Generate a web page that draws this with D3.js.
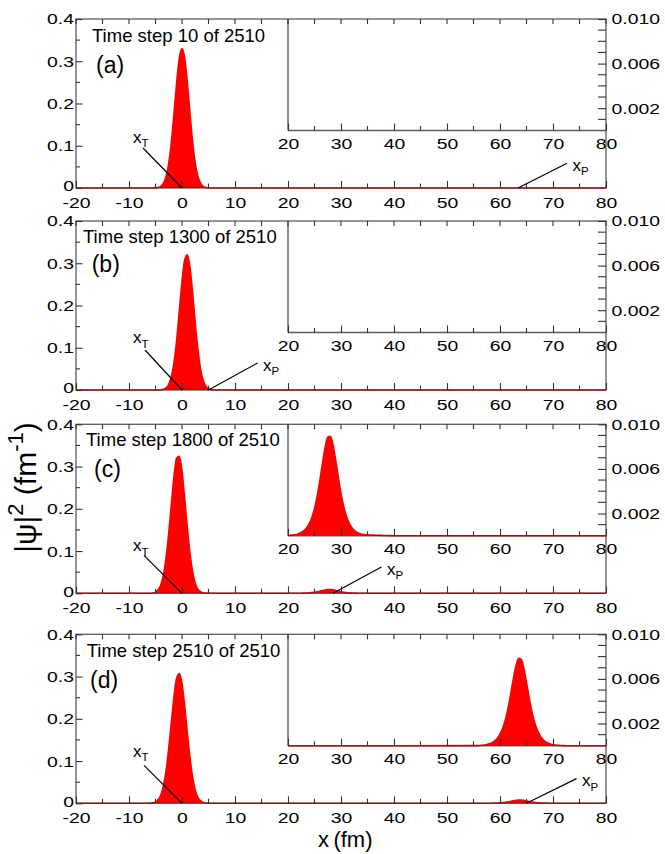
<!DOCTYPE html>
<html>
<head>
<meta charset="utf-8">
<script src="https://cdn.jsdelivr.net/npm/d3@7"></script>
<style>
  html, body { margin: 0; padding: 0; background: #fff; }
  svg { display: block; font-family: "Liberation Sans", Arial, sans-serif; }
</style>
</head>
<body>
<svg id="chart" width="665" height="854"></svg>
<script>
// ---- data ----------------------------------------------------------------
const panelLabels = ["(a)", "(b)", "(c)", "(d)"];
const timeSteps = [10, 1300, 1800, 2510];
const totalSteps = 2510;

const xTickValues = [-20, -10, 0, 10, 20, 30, 40, 50, 60, 70, 80];
const xMinorTicks = [-15, -5, 5, 15, 25, 35, 45, 55, 65, 75];
const yTickValues = [0, 0.1, 0.2, 0.3, 0.4];
const yMinorTicks = [0.05, 0.15, 0.25, 0.35];
const insetXTickValues = [20, 30, 40, 50, 60, 70, 80];
const insetXMinorTicks = [25, 35, 45, 55, 65, 75];
const insetYTickValues = [0.002, 0.006, 0.010];
const insetYMinorTicks = [0.001, 0.003, 0.004, 0.005, 0.007, 0.008, 0.009];

// marker positions for the target (x_T) and projectile (x_P) packets, fm
const targetMarks = [0, 0, 0, 0];
const projectileMarks = [63.4, 5, 28.5, 65];

// packet bound near the origin, |psi|^2 in fm^-1
const nearX = [-20, -10, -8, -7, -6.5, -6, -5.5, -5, -4.5, -4, -3.5, -3, -2.5, -2, -1.5, -1, -0.5,
  0, 0.5, 1, 1.5, 2, 2.5, 3, 3.5, 4, 4.5, 5, 5.5, 6, 6.5, 7, 8, 10];
const nearA = [0, 0, 0, 0, 0, 0.00002, 0.00008, 0.00035, 0.0013, 0.0041, 0.0115, 0.028, 0.059, 0.110, 0.178, 0.251, 0.308,
  0.330, 0.308, 0.251, 0.178, 0.110, 0.059, 0.028, 0.0115, 0.0041, 0.0013, 0.00035, 0.00008, 0.00002, 0, 0, 0, 0];
const nearB = [0, 0, 0, 0, 0, 0, 0, 0.00002, 0.0001, 0.00044, 0.0016, 0.0049, 0.0135, 0.032, 0.066, 0.119, 0.188,
  0.257, 0.307, 0.320, 0.291, 0.230, 0.159, 0.096, 0.050, 0.023, 0.0092, 0.0032, 0.0010, 0.00026, 0.00006, 0.00001, 0, 0];
const nearC = [0, 0, 0, 0.00001, 0.00006, 0.00025, 0.0009, 0.0029, 0.0082, 0.020, 0.044, 0.085, 0.143, 0.212, 0.278, 0.320, 0.324,
  0.289, 0.226, 0.156, 0.095, 0.051, 0.024, 0.0099, 0.0036, 0.0012, 0.0003, 0.00008, 0.00002, 0, 0, 0, 0, 0];
const nearD = [0, 0, 0, 0.00002, 0.00008, 0.0003, 0.0010, 0.0031, 0.0083, 0.0197, 0.042, 0.078, 0.131, 0.193, 0.254, 0.297, 0.307,
  0.283, 0.231, 0.168, 0.108, 0.062, 0.031, 0.014, 0.0057, 0.0020, 0.0006, 0.0002, 0.00004, 0.00001, 0, 0, 0, 0];

// packet travelling outward (only present in the later steps)
const farXC = [20, 20.5, 21, 21.5, 22, 22.5, 23, 23.5, 24, 24.5, 25, 25.5, 26, 26.5, 27, 27.5, 28, 28.5, 29, 29.5,
  30, 30.5, 31, 31.5, 32, 32.5, 33, 33.5, 34, 35, 36, 37, 38, 39, 40, 42, 80];
const farC = [0.00003, 0.00005, 0.00008, 0.00012, 0.00019, 0.00029, 0.00046, 0.00071, 0.00109, 0.00165, 0.00245, 0.00355,
  0.00494, 0.00649, 0.00792, 0.00884, 0.00893, 0.00815, 0.00679, 0.00524, 0.00380, 0.00265, 0.00179, 0.00118, 0.00077,
  0.00050, 0.00032, 0.00020, 0.00013, 0.00008, 0.00006, 0.00005, 0.00003, 0.00002, 0.00001, 0, 0];
const farXD = [20, 40, 55, 55.5, 56, 56.5, 57, 57.5, 58, 58.5, 59, 59.5, 60, 60.5, 61, 61.5, 62, 62.5, 63, 63.5,
  64, 64.5, 65, 65.5, 66, 66.5, 67, 67.5, 68, 68.5, 69, 69.5, 70, 70.5, 71, 71.5, 72, 73, 75, 80];
const farD = [0, 0, 0.000012, 0.000019, 0.00003, 0.000047, 0.000073, 0.000115, 0.00018, 0.00028, 0.00044, 0.00068,
  0.00104, 0.00157, 0.00232, 0.00334, 0.00460, 0.00596, 0.00716, 0.00784, 0.00776, 0.00695, 0.00569, 0.00433,
  0.00311, 0.00215, 0.00145, 0.00095, 0.00062, 0.00040, 0.00026, 0.00016, 0.00010, 0.000067, 0.000043, 0.000027,
  0.000017, 0.00001, 0.000005, 0];

const nearSeries = [nearA, nearB, nearC, nearD];
const farSeriesX = [null, null, farXC, farXD];
const farSeries = [null, null, farC, farD];

// ---- layout --------------------------------------------------------------
const W = 665, H = 854;
const plotLeft = 76, plotRight = 606, panelH = 169, insetH = 111.5;
const panelTop = [19, 221, 424.3, 634.3];
const titlePos = [[92, 23], [83, 22.3], [86, 21.7], [86.7, 22.4]];
const tagPos = [[96, 53.7], [91.7, 50.7], [94, 52.4], [90, 54]];
const xtLabelPos = [[133, 123.7], [133, 122], [133, 127], [133, 122.4]];
const xtLineStart = [[143, 129], [145, 129], [144, 131], [144, 131]];
const xpLineOffset = [[49, -24.7], [49, -27], [48.4, -26.3], [50, -24.7]];

const FRAME = "#333";
const RED = "#ff0000";
const tickFont = 15.5, tickStretch = 1.25;

const svg = d3.select("#chart");
svg.append("rect").attr("width", W).attr("height", H).attr("fill", "#fff");

const x = d3.scaleLinear().domain([-20, 80]).range([plotLeft, plotRight]);

function styleTicks(sel) {
  sel.select(".domain").remove();
  sel.selectAll(".tick line").attr("stroke", FRAME).attr("stroke-width", 1.1);
  sel.selectAll(".tick text")
    .attr("fill", "#000")
    .style("font-size", tickFont + "px")
    .style("font-family", '"Liberation Sans", Arial, sans-serif')
    .attr("transform", `scale(${tickStretch},1)`);
}

function minorTicks(g, values, pos, horizontal, len) {
  g.selectAll(null).data(values).enter().append("line")
    .attr("x1", d => horizontal ? pos(d) : len[0])
    .attr("x2", d => horizontal ? pos(d) : len[1])
    .attr("y1", d => horizontal ? len[0] : pos(d))
    .attr("y2", d => horizontal ? len[1] : pos(d))
    .attr("stroke", FRAME).attr("stroke-width", 1.1);
}

panelLabels.forEach((label, i) => {
  const T = panelTop[i], B = T + panelH, IB = T + insetH;
  const y = d3.scaleLinear().domain([0, 0.4]).range([B, T]);
  const yi = d3.scaleLinear().domain([0, 0.010]).range([IB, T]);
  const g = svg.append("g");

  // main curve: whole grid from -20 to 80 fm
  let pts = nearX.map((v, k) => [v, nearSeries[i][k]]);
  if (farSeries[i]) pts = pts.concat(farSeriesX[i].map((v, k) => [v, farSeries[i][k]]));
  else pts.push([80, 0]);

  const area = d3.area().x(d => x(d[0])).y0(B).y1(d => y(d[1])).curve(d3.curveMonotoneX);
  const line = d3.line().x(d => x(d[0])).y(d => y(d[1])).curve(d3.curveMonotoneX);
  g.append("path").datum(pts).attr("d", area).attr("fill", RED);
  g.append("path").datum(pts).attr("d", line).attr("fill", "none").attr("stroke", RED).attr("stroke-width", 1.6);

  // inset: magnified view of 20..80 fm
  const ig = g.append("g");
  ig.append("rect").attr("x", x(20)).attr("y", T).attr("width", x(80) - x(20)).attr("height", insetH).attr("fill", "#fff");
  if (farSeries[i]) {
    const fpts = farSeriesX[i].map((v, k) => [v, farSeries[i][k]]);
    const iarea = d3.area().x(d => x(d[0])).y0(IB).y1(d => yi(d[1])).curve(d3.curveMonotoneX);
    const iline = d3.line().x(d => x(d[0])).y(d => yi(d[1])).curve(d3.curveMonotoneX);
    ig.append("path").datum(fpts).attr("d", iarea).attr("fill", RED);
    ig.append("path").datum(fpts).attr("d", iline).attr("fill", "none").attr("stroke", RED).attr("stroke-width", 1.6);
  }

  // inset axes
  const ixAxis = ig.append("g").attr("transform", `translate(0,${IB})`)
    .call(d3.axisBottom(x).tickValues(insetXTickValues).tickSizeInner(-7).tickSizeOuter(0).tickPadding(7)
      .tickFormat(d => String(d)));
  styleTicks(ixAxis);
  minorTicks(ig, insetXMinorTicks, x, true, [IB, IB - 4.5]);
  const iyAxis = ig.append("g").attr("transform", `translate(${plotRight},0)`)
    .call(d3.axisRight(yi).tickValues(insetYTickValues).tickSizeInner(-8).tickSizeOuter(0).tickPadding(4.5)
      .tickFormat(d3.format(".3f")));
  styleTicks(iyAxis);
  minorTicks(ig, insetYMinorTicks, yi, false, [plotRight, plotRight - 8]);
  ig.append("line").attr("x1", x(20)).attr("x2", x(20)).attr("y1", T).attr("y2", IB)
    .attr("stroke", FRAME).attr("stroke-width", 1.3).attr("stroke-opacity", 0.85);
  ig.append("line").attr("x1", x(20)).attr("x2", plotRight).attr("y1", IB).attr("y2", IB)
    .attr("stroke", FRAME).attr("stroke-width", 1.3).attr("stroke-opacity", 0.8);

  // main axes, ticks pointing inward
  const yAxis = g.append("g").attr("transform", `translate(${plotLeft},0)`)
    .call(d3.axisLeft(y).tickValues(yTickValues).tickSizeInner(-6.5).tickSizeOuter(0).tickPadding(1.6)
      .tickFormat(d => d === 0 ? "0" : d3.format(".1f")(d)));
  styleTicks(yAxis);
  // the zero label sits a little above its tick so it clears the x labels
  yAxis.selectAll(".tick text").filter(d => d === 0).attr("y", -2);
  minorTicks(g, yMinorTicks, y, false, [plotLeft, plotLeft + 4]);

  const xAxis = g.append("g").attr("transform", `translate(0,${B})`)
    .call(d3.axisBottom(x).tickValues(xTickValues).tickSizeInner(-7).tickSizeOuter(0).tickPadding(8.5)
      .tickFormat(d => String(d)));
  styleTicks(xAxis);
  minorTicks(g, xMinorTicks, x, true, [B, B - 4.5]);
  minorTicks(g, xTickValues.concat(xMinorTicks), x, true, [T, T + 5]);

  // frame
  g.append("rect").attr("x", plotLeft).attr("y", T).attr("width", plotRight - plotLeft).attr("height", panelH)
    .attr("fill", "none").attr("stroke", FRAME).attr("stroke-width", 1.3).attr("stroke-opacity", 0.8);

  // texts
  g.append("text").attr("x", titlePos[i][0]).attr("y", T + titlePos[i][1])
    .style("font-size", "18.5px").attr("fill", "#000")
    .text(`Time step ${timeSteps[i]} of ${totalSteps}`);
  g.append("text").attr("x", tagPos[i][0]).attr("y", T + tagPos[i][1])
    .style("font-size", "23px").attr("fill", "#000").text(label);

  // x_T marker
  g.append("line").attr("x1", xtLineStart[i][0]).attr("y1", T + xtLineStart[i][1])
    .attr("x2", x(targetMarks[i])).attr("y2", B).attr("stroke", "#000").attr("stroke-width", 1.2);
  const tT = g.append("text").attr("x", xtLabelPos[i][0]).attr("y", T + xtLabelPos[i][1])
    .style("font-size", "17px").attr("fill", "#000");
  tT.append("tspan").text("x");
  tT.append("tspan").attr("dy", 4.5).style("font-size", "11.5px").text("T");

  // x_P marker
  const px = x(projectileMarks[i]);
  const sx = px + xpLineOffset[i][0], sy = B + xpLineOffset[i][1];
  g.append("line").attr("x1", sx).attr("y1", sy).attr("x2", px).attr("y2", B)
    .attr("stroke", "#000").attr("stroke-width", 1.2);
  const tP = g.append("text").attr("x", sx + 5.5).attr("y", sy + 7.5)
    .style("font-size", "17px").attr("fill", "#000");
  tP.append("tspan").text("x");
  tP.append("tspan").attr("dy", 4.5).style("font-size", "11.5px").text("P");
});

// axis titles
const yTitle = svg.append("text")
  .attr("transform", "translate(36,487.5) rotate(-90)")
  .attr("text-anchor", "middle").style("font-size", "30px").attr("fill", "#000");
yTitle.append("tspan").text("|\u03c8|");
yTitle.append("tspan").attr("dy", -13).style("font-size", "22px").text("2");
yTitle.append("tspan").attr("dy", 13).text("\u00a0(fm");
yTitle.append("tspan").attr("dy", -13).style("font-size", "22px").text("-1");
yTitle.append("tspan").attr("dy", 13).text(")");

svg.append("text").attr("x", 318).attr("y", 846.5)
  .style("font-size", "22px").attr("fill", "#000").text("x\u2009(fm)");
</script>
</body>
</html>
